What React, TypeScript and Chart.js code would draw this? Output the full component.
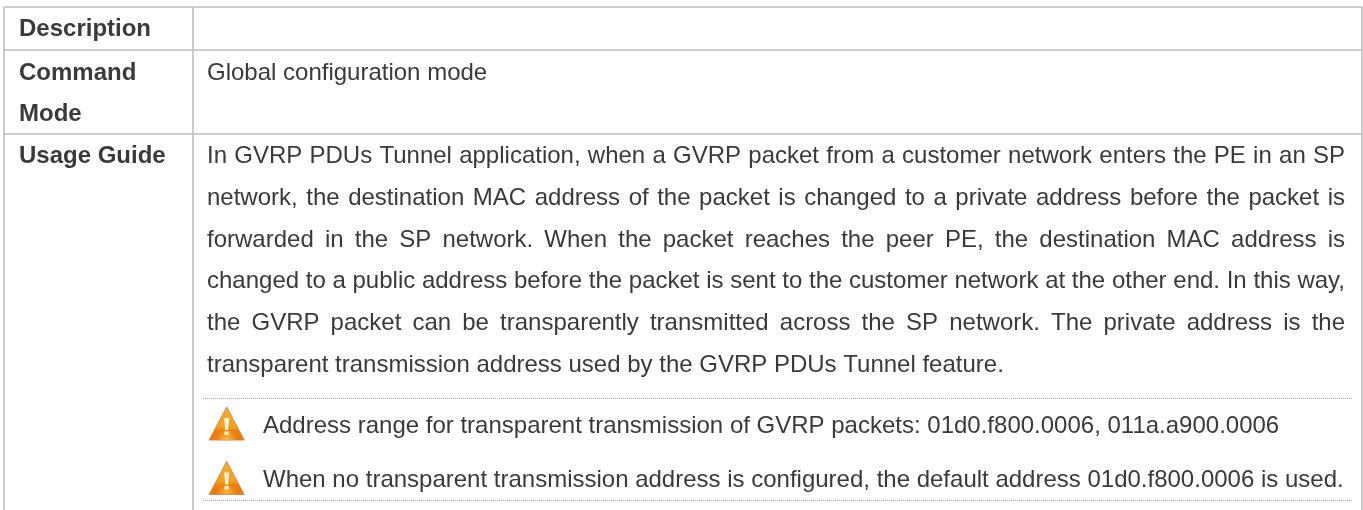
import React, { useEffect, useRef } from "react";
import { Chart, registerables } from "chart.js";

Chart.register(...registerables);

const rowHeaders = ["Description", "Command", "Mode", "Usage Guide"];
const rowHeaderBaselines = [36, 80, 121, 163];
const modeText = "Global configuration mode";
const modeBaseline = 80;
const usageLines = [
  "In GVRP PDUs Tunnel application, when a GVRP packet from a customer network enters the PE in an SP",
  "network, the destination MAC address of the packet is changed to a private address before the packet is",
  "forwarded in the SP network. When the packet reaches the peer PE, the destination MAC address is",
  "changed to a public address before the packet is sent to the customer network at the other end. In this way,",
  "the GVRP packet can be transparently transmitted across the SP network. The private address is the",
  "transparent transmission address used by the GVRP PDUs Tunnel feature.",
];
const usageBaselines = [163, 205, 247, 288, 330, 371.5];
const noteLines = [
  "Address range for transparent transmission of GVRP packets: 01d0.f800.0006, 011a.a900.0006",
  "When no transparent transmission address is configured, the default address 01d0.f800.0006 is used.",
];
const noteBaselines = [433, 487];
const noteIconTops = [407, 461.5];
const columnEdges = [4, 193, 1362];
const rowEdges = [7, 50, 134];
const dottedRules = [398, 500];

const tablePlugin = {
  id: "tablePlugin",
  afterDraw(chart: any) {
    const { ctx, scales } = chart;
    const X = (v: number) => scales.x.getPixelForValue(v);
    const Y = (v: number) => scales.y.getPixelForValue(v);
    ctx.save();
    ctx.textBaseline = "alphabetic";

    // Solid rules
    ctx.strokeStyle = "#bfbfbf";
    ctx.lineWidth = 1.6;
    ctx.beginPath();
    rowEdges.forEach((r) => {
      ctx.moveTo(X(columnEdges[0]), Y(r));
      ctx.lineTo(X(columnEdges[2]), Y(r));
    });
    columnEdges.forEach((c) => {
      ctx.moveTo(X(c), Y(rowEdges[0]));
      ctx.lineTo(X(c), Y(510));
    });
    ctx.stroke();

    // Dotted rules
    ctx.strokeStyle = "#a8a8a8";
    ctx.lineWidth = 1;
    ctx.setLineDash([1, 1]);
    ctx.beginPath();
    dottedRules.forEach((r) => {
      ctx.moveTo(X(203), Y(r) + 0.5);
      ctx.lineTo(X(1352), Y(r) + 0.5);
    });
    ctx.stroke();
    ctx.setLineDash([]);

    // Row headers
    ctx.fillStyle = "#3a3a3a";
    ctx.font = 'bold 24px "Liberation Sans"';
    rowHeaders.forEach((t, i) => ctx.fillText(t, X(19), Y(rowHeaderBaselines[i])));

    // Body
    ctx.font = '24px "Liberation Sans"';
    ctx.fillText(modeText, X(207), Y(modeBaseline));
    const left = X(207);
    const right = X(1345);
    usageLines.forEach((line, i) => {
      if (i === usageLines.length - 1) {
        ctx.fillText(line, left, Y(usageBaselines[i]));
        return;
      }
      const words = line.split(" ");
      const total = words.reduce((s, w) => s + ctx.measureText(w).width, 0);
      const gap = (right - left - total) / (words.length - 1);
      let x = left;
      words.forEach((w) => {
        ctx.fillText(w, x, Y(usageBaselines[i]));
        x += ctx.measureText(w).width + gap;
      });
    });
    noteLines.forEach((t, i) => ctx.fillText(t, X(263), Y(noteBaselines[i])));

    // Warning icons
    noteIconTops.forEach((top) => {
      const t = Y(top);
      const cx = X(226.7);
      const w = 17.5;
      const h = 33;
      const triangle = () => {
        ctx.beginPath();
        ctx.moveTo(cx, t);
        ctx.lineTo(cx + w, t + h);
        ctx.lineTo(cx - w, t + h);
        ctx.closePath();
      };
      const g = ctx.createLinearGradient(0, t, 0, t + h);
      g.addColorStop(0, "#f6ad35");
      g.addColorStop(0.6, "#f5a01a");
      g.addColorStop(0.72, "#ee7f08");
      g.addColorStop(1, "#ee7a05");
      ctx.fillStyle = g;
      ctx.strokeStyle = "#cf8a5a";
      ctx.lineWidth = 1;
      ctx.lineJoin = "round";
      triangle();
      ctx.fill();
      ctx.stroke();
      ctx.save();
      triangle();
      ctx.clip();
      const glow = ctx.createRadialGradient(cx, t + h, 1, cx, t + h, 11);
      glow.addColorStop(0, "rgba(252,190,70,0.85)");
      glow.addColorStop(1, "rgba(252,190,70,0)");
      ctx.fillStyle = glow;
      ctx.fillRect(cx - w, t + h - 12, 2 * w, 12);
      ctx.restore();
      ctx.fillStyle = "#fff3dc";
      ctx.beginPath();
      ctx.moveTo(cx - 2.6, t + 11);
      ctx.lineTo(cx + 2.6, t + 11);
      ctx.lineTo(cx + 1.4, t + 23);
      ctx.lineTo(cx - 1.4, t + 23);
      ctx.closePath();
      ctx.fill();
      ctx.fillRect(cx - 2.2, t + 24.5, 4.4, 3.5);
    });
    ctx.restore();
  },
};

export default function App() {
  const ref = useRef<HTMLCanvasElement>(null);
  useEffect(() => {
    if (!ref.current) return;
    const chart = new Chart(ref.current, {
      type: "scatter",
      data: { datasets: [{ data: [], pointRadius: 0 }] },
      plugins: [tablePlugin],
      options: {
        animation: false,
        responsive: false,
        layout: { padding: 0 },
        plugins: { legend: { display: false }, tooltip: { enabled: false } },
        scales: {
          x: { type: "linear", min: 0, max: 1363, display: false },
          y: { type: "linear", min: 0, max: 510, reverse: true, display: false },
        },
      },
    });
    return () => chart.destroy();
  }, []);
  return (
    <div style={{ position: "fixed", left: 0, top: 0, width: 1363, height: 510, background: "#fff" }}>
      <canvas ref={ref} width={1363} height={510} style={{ display: "block" }} />
    </div>
  );
}
